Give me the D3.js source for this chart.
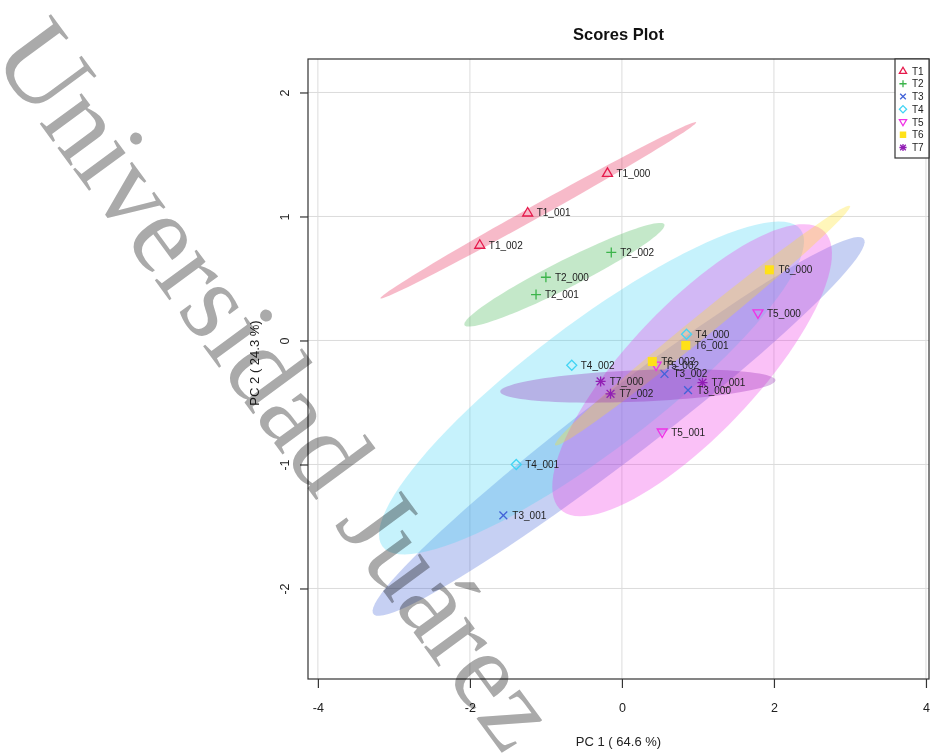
<!doctype html>
<html lang="en">
<head>
<meta charset="utf-8">
<title>Scores Plot</title>
<script src="https://cdn.jsdelivr.net/npm/d3@7"></script>
<style>
  body { margin: 0; background: #fff; }
  svg text { font-family: "Liberation Sans", Arial, sans-serif; }
</style>
</head>
<body>
<script>
// groups and colours
var groups = ["T1", "T2", "T3", "T4", "T5", "T6", "T7"];
var groupColors = ["#e6194B", "#3cb44b", "#4363d8", "#42d4f4", "#f032e6", "#ffe119", "#911eb4"];
var groupShapes = ["triangle", "plus", "times", "diamond", "triangleDown", "square", "asterisk"];

// samples
var sampleNames = ["T1_000", "T1_001", "T1_002", "T2_000", "T2_001", "T2_002",
                   "T3_000", "T3_001", "T3_002", "T4_000", "T4_001", "T4_002",
                   "T5_000", "T5_001", "T5_002", "T6_000", "T6_001", "T6_002",
                   "T7_000", "T7_001", "T7_002"];
var sampleGroup = ["T1", "T1", "T1", "T2", "T2", "T2", "T3", "T3", "T3", "T4", "T4", "T4",
                   "T5", "T5", "T5", "T6", "T6", "T6", "T7", "T7", "T7"];
var pc1 = [-0.19, -1.24, -1.87, -1.00, -1.13, -0.14, 0.87, -1.56, 0.56, 0.85, -1.39, -0.66,
           1.79, 0.53, 0.45, 1.94, 0.84, 0.40, -0.28, 1.06, -0.15];
var pc2 = [1.35, 1.03, 0.77, 0.51, 0.37, 0.71, -0.40, -1.41, -0.27, 0.05, -1.00, -0.20,
           0.22, -0.74, -0.20, 0.57, -0.04, -0.17, -0.33, -0.34, -0.43];

var xTicks = [-4, -2, 0, 2, 4];
var yTicks = [-2, -1, 0, 1, 2];

var W = 931, H = 755;
var plot = {left: 308, right: 929, top: 59, bottom: 679};

var svg = d3.select("body").append("svg")
            .attr("width", W)
            .attr("height", H);

var x = d3.scaleLinear().domain([-4.13, 4.04]).range([plot.left, plot.right]);
var y = d3.scaleLinear().domain([-2.73, 2.27]).range([plot.bottom, plot.top]);

svg.append("clipPath").attr("id", "plotclip")
   .append("rect")
   .attr("x", plot.left).attr("y", plot.top)
   .attr("width", plot.right - plot.left).attr("height", plot.bottom - plot.top);

// grid
var grid = svg.append("g");
grid.selectAll(".gx").data(xTicks).enter().append("line")
    .attr("x1", d => x(d)).attr("x2", d => x(d))
    .attr("y1", plot.top).attr("y2", plot.bottom)
    .attr("stroke", "#dcdcdc").attr("stroke-width", 1);
grid.selectAll(".gy").data(yTicks).enter().append("line")
    .attr("y1", d => y(d)).attr("y2", d => y(d))
    .attr("x1", plot.left).attr("x2", plot.right)
    .attr("stroke", "#dcdcdc").attr("stroke-width", 1);

// 95% confidence ellipses, computed from each group's scores
var tval = Math.sqrt(-2 * Math.log(1 - 0.95));
var ellipseData = groups.map(function(g, gi) {
    var idx = d3.range(sampleNames.length).filter(i => sampleGroup[i] === g);
    var xs = idx.map(i => pc1[i]), ys = idx.map(i => pc2[i]);
    var mx = d3.mean(xs), my = d3.mean(ys);
    var n = xs.length;
    var sxx = d3.sum(xs, v => (v - mx) * (v - mx)) / (n - 1);
    var syy = d3.sum(ys, v => (v - my) * (v - my)) / (n - 1);
    var sxy = d3.sum(idx, (_, k) => (xs[k] - mx) * (ys[k] - my)) / (n - 1);
    var sx = Math.sqrt(sxx), sy = Math.sqrt(syy);
    var r = Math.max(-1, Math.min(1, sxy / (sx * sy)));
    var dd = Math.acos(r);
    var pts = d3.range(100).map(function(k) {
        var a = k / 100 * 2 * Math.PI;
        return [mx + tval * sx * Math.cos(a + dd / 2), my + tval * sy * Math.cos(a - dd / 2)];
    });
    return {group: g, color: groupColors[gi], pts: pts};
});

var line = d3.line().x(d => x(d[0])).y(d => y(d[1])).curve(d3.curveLinearClosed);
svg.append("g").attr("clip-path", "url(#plotclip)")
   .selectAll("path").data(ellipseData).enter().append("path")
   .attr("d", d => line(d.pts))
   .attr("fill", d => d.color)
   .attr("fill-opacity", 0.3)
   .attr("stroke", "none");

// marker shapes
function shapePath(shape, r) {
    var k = r * 0.78;
    switch (shape) {
        case "triangle": return "M0," + (-r * 1.05) + "L" + r + "," + (r * 0.65) + "L" + (-r) + "," + (r * 0.65) + "Z";
        case "triangleDown": return "M0," + (r * 1.05) + "L" + r + "," + (-r * 0.65) + "L" + (-r) + "," + (-r * 0.65) + "Z";
        case "plus": return "M" + (-r) + ",0H" + r + "M0," + (-r) + "V" + r;
        case "times": return "M" + (-k) + "," + (-k) + "L" + k + "," + k + "M" + (-k) + "," + k + "L" + k + "," + (-k);
        case "diamond": return "M0," + (-r) + "L" + r + ",0L0," + r + "L" + (-r) + ",0Z";
        case "square": return "M" + (-r * 0.9) + "," + (-r * 0.9) + "h" + (r * 1.8) + "v" + (r * 1.8) + "h" + (-r * 1.8) + "Z";
        case "asterisk": return "M" + (-r) + ",0H" + r + "M0," + (-r) + "V" + r +
                                "M" + (-k) + "," + (-k) + "L" + k + "," + k + "M" + (-k) + "," + k + "L" + k + "," + (-k);
    }
}

var samples = d3.range(sampleNames.length).map(i => ({
    name: sampleNames[i], gi: groups.indexOf(sampleGroup[i]), x: pc1[i], y: pc2[i]
}));

var pts = svg.append("g");
pts.selectAll("path").data(samples).enter().append("path")
   .attr("transform", d => "translate(" + x(d.x) + "," + y(d.y) + ")")
   .attr("d", d => shapePath(groupShapes[d.gi], 5))
   .attr("fill", d => groupShapes[d.gi] === "square" ? groupColors[d.gi] : "none")
   .attr("stroke", d => groupShapes[d.gi] === "square" ? "none" : groupColors[d.gi])
   .attr("stroke-width", 1.3);

pts.selectAll("text").data(samples).enter().append("text")
   .attr("x", d => x(d.x) + 9)
   .attr("y", d => y(d.y))
   .attr("dy", "0.35em")
   .attr("font-size", "10px")
   .attr("fill", "#222")
   .text(d => d.name);

// frame
svg.append("rect")
   .attr("x", plot.left).attr("y", plot.top)
   .attr("width", plot.right - plot.left).attr("height", plot.bottom - plot.top)
   .attr("fill", "none").attr("stroke", "#333").attr("stroke-width", 1.2);

// axes
var xAxis = svg.append("g")
    .attr("transform", "translate(0," + plot.bottom + ")")
    .call(d3.axisBottom(x).tickValues(xTicks).tickSize(9).tickPadding(15).tickFormat(d3.format("d")));
var yAxis = svg.append("g")
    .attr("transform", "translate(" + plot.left + ",0)")
    .call(d3.axisLeft(y).tickValues(yTicks).tickSize(8).tickFormat(d3.format("d")));
[xAxis, yAxis].forEach(function(a) {
    a.select(".domain").remove();
    a.selectAll("line").attr("stroke", "#333").attr("stroke-width", 1.2);
    a.selectAll("text").attr("font-size", "12.5px").attr("fill", "#222")
     .style("font-family", "'Liberation Sans', Arial, sans-serif");
});
xAxis.selectAll("text").text(d => d < 0 ? "-" + Math.abs(d) : d);
yAxis.selectAll("text")
     .text(d => d < 0 ? "-" + Math.abs(d) : d)
     .attr("transform", "rotate(-90)")
     .attr("x", 0).attr("y", -23).attr("dy", "0.35em")
     .attr("text-anchor", "middle");

// titles
var cx = (plot.left + plot.right) / 2, cy = (plot.top + plot.bottom) / 2;
svg.append("text")
   .attr("x", cx).attr("y", 40)
   .attr("text-anchor", "middle")
   .attr("font-size", "16.5px").attr("font-weight", "bold").attr("fill", "#111")
   .text("Scores Plot");
svg.append("text")
   .attr("x", cx).attr("y", 746)
   .attr("text-anchor", "middle")
   .attr("font-size", "13px").attr("fill", "#222")
   .text("PC 1 ( 64.6 %)");
svg.append("text")
   .attr("transform", "translate(259," + (cy - 6) + ") rotate(-90)")
   .attr("text-anchor", "middle")
   .attr("font-size", "13px").attr("fill", "#222")
   .text("PC 2 ( 24.3 %)");

// legend
var leg = svg.append("g");
leg.append("rect")
   .attr("x", 895).attr("y", plot.top)
   .attr("width", plot.right - 895).attr("height", 99)
   .attr("fill", "#fff").attr("stroke", "#333").attr("stroke-width", 1.2);
var li = leg.selectAll(".li").data(groups).enter().append("g")
   .attr("transform", (d, i) => "translate(903," + (71 + i * 12.75) + ")");
li.append("path")
  .attr("d", (d, i) => shapePath(groupShapes[i], 3.6))
  .attr("fill", (d, i) => groupShapes[i] === "square" ? groupColors[i] : "none")
  .attr("stroke", (d, i) => groupShapes[i] === "square" ? "none" : groupColors[i])
  .attr("stroke-width", 1.3);
li.append("text")
  .attr("x", 9).attr("dy", "0.35em")
  .attr("font-size", "10px").attr("fill", "#222")
  .text(d => d);

// watermark
svg.append("text")
   .attr("transform", "translate(-10,56) rotate(53.7)")
   .style("font-family", "'Liberation Serif', 'Times New Roman', serif")
   .attr("font-size", "113px")
   .attr("fill", "#aaaaaa")
   .style("mix-blend-mode", "multiply")
   .text("Universidad Juárez");
</script>
</body>
</html>
